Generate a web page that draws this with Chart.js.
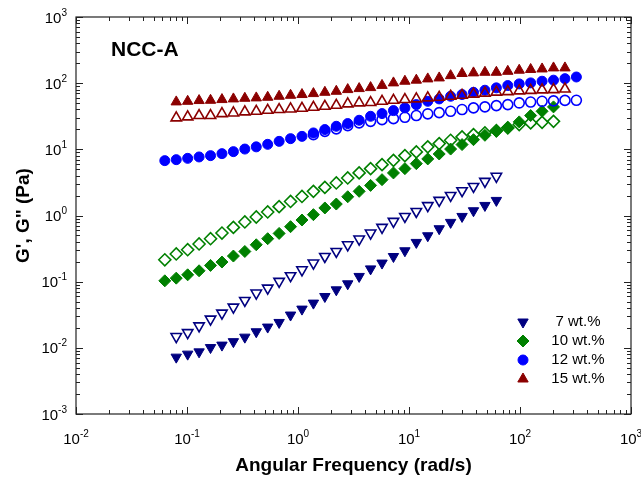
<!DOCTYPE html>
<html>
<head>
<meta charset="utf-8">
<script src="https://cdn.jsdelivr.net/npm/chart.js@4.4.0/dist/chart.umd.min.js"></script>
<style>
  html, body { margin: 0; padding: 0; background: #fff; }
  #wrap { width: 641px; height: 479px; }
</style>
</head>
<body>
<div id="wrap"><canvas id="rheo" width="641" height="479"></canvas></div>
<script>
// angular frequency grid (rad/s), each series starts at some index of it
var freq = [0.0631, 0.0800, 0.1014, 0.1285, 0.1629, 0.2065, 0.2618, 0.3319, 0.4207, 0.5333,
    0.6761, 0.8570, 1.086, 1.377, 1.746, 2.213, 2.805, 3.556, 4.508, 5.715,
    7.244, 9.183, 11.64, 14.76, 18.71, 23.71, 30.06, 38.11, 48.31, 61.24,
    77.62, 98.40, 124.7, 158.1, 200.4, 254.1, 322.1];

var g1_7 = [0.00723, 0.00803, 0.00869, 0.0101, 0.0110, 0.0124, 0.0145, 0.0175, 0.0206, 0.0242,
    0.0313, 0.0385, 0.0474, 0.0597, 0.0753, 0.0929, 0.120, 0.156, 0.191, 0.240,
    0.293, 0.392, 0.494, 0.631, 0.787, 0.968, 1.18, 1.42, 1.69];
var g2_7 = [0.0148, 0.0170, 0.0215, 0.0272, 0.0335, 0.0413, 0.0520, 0.0673, 0.0800, 0.101,
    0.123, 0.151, 0.191, 0.240, 0.286, 0.361, 0.441, 0.543, 0.661, 0.815,
    0.968, 1.15, 1.41, 1.69, 2.01, 2.37, 2.75, 3.28, 3.91];
var g1_10 = [0.103, 0.113, 0.127, 0.146, 0.176, 0.198, 0.244, 0.286, 0.361, 0.446,
    0.536, 0.678, 0.855, 1.03, 1.30, 1.49, 1.92, 2.32, 2.85, 3.48,
    4.40, 5.11, 6.08, 7.16, 8.51, 10.1, 11.8, 14.0, 16.3, 18.7,
    21.5, 26.0, 32.4, 37.6, 43.8];
var g2_10 = [0.214, 0.262, 0.304, 0.371, 0.446, 0.543, 0.661, 0.798, 0.949, 1.13,
    1.36, 1.63, 1.94, 2.32, 2.66, 3.10, 3.69, 4.40, 5.11, 5.87,
    6.82, 8.03, 9.14, 10.9, 12.2, 13.7, 15.4, 16.7, 17.7, 19.2,
    21.1, 23.7, 25.1, 25.6, 26.5];
var g1_12 = [6.75, 6.98, 7.31, 7.67, 8.03, 8.61, 9.23, 10.1, 10.9, 11.9,
    13.2, 14.5, 15.7, 17.7, 19.9, 22.3, 24.5, 27.5, 31.6, 34.7,
    38.5, 42.3, 47.4, 53.2, 57.8, 63.4, 67.3, 72.8, 78.2, 84.9,
    92.0, 97.5, 101, 107, 111, 117, 124];
var g2_12 = [16.7, 18.7, 20.4, 22.8, 25.1, 26.5, 28.1, 29.1, 30.5, 32.4,
    34.4, 35.9, 37.6, 39.9, 42.3, 43.8, 45.8, 47.4, 50.3, 51.8,
    53.2, 54.0, 54.9, 55.1];
var g1_15 = [52.1, 53.2, 54.6, 55.1, 56.5, 57.8, 59.1, 59.9, 61.2, 63.4,
    65.6, 67.3, 69.6, 72.8, 75.4, 80.0, 82.8, 85.7, 92.6, 101,
    107, 111, 116, 120, 130, 140, 143, 146, 146, 151,
    157, 161, 164, 170, 170];
var g2_15 = [29.9, 30.9, 32.4, 32.4, 34.7, 35.5, 36.8, 37.6, 38.9, 39.9,
    40.8, 41.7, 43.2, 44.7, 46.3, 48.6, 50.3, 50.9, 53.2, 55.1,
    56.5, 57.8, 59.9, 61.2, 63.4, 65.6, 68.4, 70.8, 73.3, 74.6,
    76.5, 77.8, 79.2, 80.0, 81.5];

var xDecades = [-2, -1, 0, 1, 2, 3];
var yDecades = [-3, -2, -1, 0, 1, 2, 3];
var legendLabels = ["7 wt.%", "10 wt.%", "12 wt.%", "15 wt.%"];

var FONT = '"Liberation Sans", Arial, Helvetica, sans-serif';
var NAVY = '#000080', GREEN = '#008000', BLUE = '#0000ff', RED = '#8b0000';

function pts(values, start) {
    return values.map(function (v, i) { return {x: freq[start + i], y: v}; });
}

function series(label, values, start, color, style, rot, filled) {
    return {
        label: label,
        data: pts(values, start),
        pointStyle: style,
        pointRotation: rot,
        pointRadius: style === 'circle' ? 5 : 6,
        pointBorderWidth: filled ? 1 : 1.6,
        backgroundColor: filled ? color : 'rgba(0,0,0,0)',
        borderColor: color,
        showLine: false
    };
}

// first dataset is drawn on top
var datasets = [
    series("15 G''", g2_15, 1, RED, 'triangle', 0, false),
    series("15 G'", g1_15, 1, RED, 'triangle', 0, true),
    series("12 G''", g2_12, 13, BLUE, 'circle', 0, false),
    series("12 G'", g1_12, 0, BLUE, 'circle', 0, true),
    series("10 G'", g1_10, 0, GREEN, 'rectRot', 0, true),
    series("10 G''", g2_10, 0, GREEN, 'rectRot', 0, false),
    series("7 G''", g2_7, 1, NAVY, 'triangle', 180, false),
    series("7 G'", g1_7, 1, NAVY, 'triangle', 180, true)
];

function drawLabel(ctx, base, exp, x, y, align) {
    ctx.font = '15px ' + FONT;
    var w1 = ctx.measureText(base).width;
    ctx.font = '10px ' + FONT;
    var w2 = ctx.measureText(exp).width;
    var x0 = align === 'center' ? x - (w1 + w2) / 2 : x - (w1 + w2);
    ctx.textAlign = 'left';
    ctx.textBaseline = 'alphabetic';
    ctx.font = '15px ' + FONT;
    ctx.fillText(base, x0, y);
    ctx.font = '10px ' + FONT;
    ctx.fillText(exp, x0 + w1, y - 7);
}

var framePlugin = {
    id: 'frame',
    afterDraw: function (chart) {
        var ctx = chart.ctx, a = chart.chartArea;
        var xs = chart.scales.x, ys = chart.scales.y;
        ctx.save();
        ctx.strokeStyle = '#222';
        ctx.lineWidth = 1.2;
        ctx.strokeRect(a.left, a.top, a.right - a.left, a.bottom - a.top);
        ctx.lineWidth = 1;
        ctx.beginPath();
        xDecades.forEach(function (e) {
            for (var m = 1; m < 10; m++) {
                if (e === 3 && m > 1) break;
                var px = Math.round(xs.getPixelForValue(m * Math.pow(10, e))) + 0.5;
                var len = m === 1 ? 7 : 4;
                ctx.moveTo(px, a.bottom); ctx.lineTo(px, a.bottom - len);
                ctx.moveTo(px, a.top); ctx.lineTo(px, a.top + len);
            }
        });
        yDecades.forEach(function (e) {
            for (var m = 1; m < 10; m++) {
                if (e === 3 && m > 1) break;
                var py = Math.round(ys.getPixelForValue(m * Math.pow(10, e))) + 0.5;
                var len = m === 1 ? 7 : 4;
                ctx.moveTo(a.left, py); ctx.lineTo(a.left + len, py);
                ctx.moveTo(a.right, py); ctx.lineTo(a.right - len, py);
            }
        });
        ctx.stroke();

        ctx.fillStyle = '#000';
        xDecades.forEach(function (e) {
            drawLabel(ctx, '10', String(e), xs.getPixelForValue(Math.pow(10, e)), 444, 'center');
        });
        yDecades.forEach(function (e) {
            drawLabel(ctx, '10', String(e), 67, ys.getPixelForValue(Math.pow(10, e)) + 5.5, 'right');
        });

        ctx.font = 'bold 21px ' + FONT;
        ctx.textAlign = 'left';
        ctx.fillText('NCC-A', 111, 56);

        // legend
        var rows = [[NAVY, 'triangle', 180], [GREEN, 'rectRot', 0], [BLUE, 'circle', 0], [RED, 'triangle', 0]];
        rows.forEach(function (r, i) {
            var yy = 322 + i * 19;
            ctx.fillStyle = r[0];
            ctx.strokeStyle = r[0];
            ctx.lineWidth = 1;
            Chart.helpers.drawPoint(ctx, {pointStyle: r[1], rotation: r[2], radius: r[1] === 'circle' ? 5 : 6, borderWidth: 1}, 523, yy);
            ctx.fillStyle = '#000';
            ctx.font = '15px ' + FONT;
            ctx.textAlign = 'center';
            ctx.textBaseline = 'middle';
            ctx.fillText(legendLabels[i], 578, yy);
        });
        ctx.restore();
    }
};

var ctx = document.getElementById("rheo");
var rheoChart = new Chart(ctx, {
    type: 'scatter',
    data: {datasets: datasets},
    options: {
        responsive: false,
        animation: false,
        devicePixelRatio: 1,
        events: [],
        layout: {padding: {top: 17, right: 10, left: 0, bottom: 0}},
        plugins: {legend: {display: false}, tooltip: {enabled: false}},
        scales: {
            x: {
                type: 'logarithmic', min: 0.01, max: 1000,
                grid: {display: false}, border: {display: false},
                ticks: {display: false},
                title: {display: true, text: 'Angular Frequency (rad/s)', color: '#000',
                    font: {family: FONT, size: 19, weight: 'bold'}, padding: {top: 0, bottom: 2}},
                afterFit: function (s) { s.height = 65; }
            },
            y: {
                type: 'logarithmic', min: 0.001, max: 1000,
                grid: {display: false}, border: {display: false},
                ticks: {display: false},
                title: {display: true, text: 'G\', G" (Pa)', color: '#000',
                    font: {family: FONT, size: 19, weight: 'bold'}, padding: {top: 12, bottom: 0}},
                afterFit: function (s) { s.width = 76; }
            }
        }
    },
    plugins: [framePlugin]
});
</script>
</body>
</html>
